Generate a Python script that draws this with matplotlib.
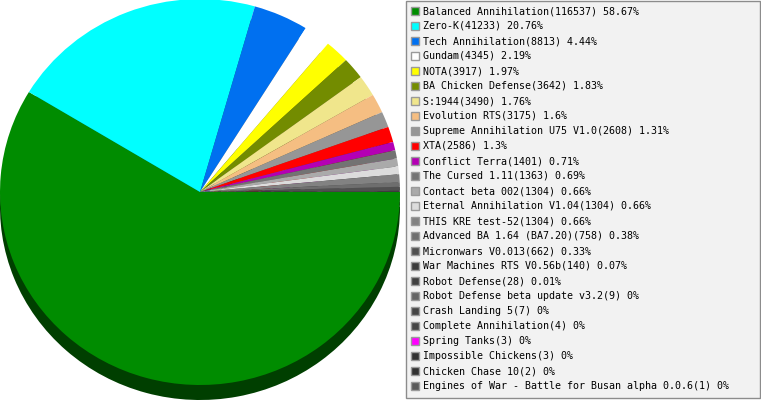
import numpy as np
import matplotlib.pyplot as plt
from matplotlib.patches import Rectangle
from matplotlib.colors import to_rgb

names = [
    'Balanced Annihilation', 'Zero-K', 'Tech Annihilation', 'Gundam', 'NOTA',
    'BA Chicken Defense', 'S:1944', 'Evolution RTS', 'Supreme Annihilation U75 V1.0',
    'XTA', 'Conflict Terra', 'The Cursed 1.11', 'Contact beta 002',
    'Eternal Annihilation V1.04', 'THIS KRE test-52', 'Advanced BA 1.64 (BA7.20)',
    'Micronwars V0.013', 'War Machines RTS V0.56b', 'Robot Defense',
    'Robot Defense beta update v3.2', 'Crash Landing 5', 'Complete Annihilation',
    'Spring Tanks', 'Impossible Chickens', 'Chicken Chase 10',
    'Engines of War - Battle for Busan alpha 0.0.6',
]
counts = [116537, 41233, 8813, 4345, 3917, 3642, 3490, 3175, 2608, 2586, 1401,
          1363, 1304, 1304, 1304, 758, 662, 140, 28, 9, 7, 4, 3, 3, 2, 1]
percents = ['58.67', '20.76', '4.44', '2.19', '1.97', '1.83', '1.76', '1.6', '1.31',
            '1.3', '0.71', '0.69', '0.66', '0.66', '0.66', '0.38', '0.33', '0.07',
            '0.01', '0', '0', '0', '0', '0', '0', '0']
colors = ['#008c00', '#00ffff', '#0070f0', '#ffffff', '#ffff00', '#738c00',
          '#f0e68c', '#f5be82', '#969696', '#ff0000', '#b400b4', '#737373',
          '#aaaaaa', '#dcdcdc', '#828282', '#6e6e6e', '#505050', '#3c3c3c',
          '#404040', '#646464', '#464646', '#464646', '#ff00ff', '#323232',
          '#323232', '#5a5a5a']

W, H = 761, 400
fig = plt.figure(figsize=(W / 100, H / 100), dpi=100)

# pie in its own axes so it can be a slightly wide ellipse (rx 200, ry 193)
cx, cy, rx, ry = 200, 192, 200, 193
depth = 15
pie_ax = fig.add_axes([(cx - rx) / W, (H - cy - ry) / H, 2 * rx / W, 2 * ry / H])
dark = [tuple(c * 0.45 for c in to_rgb(col)) for col in colors]
pie_ax.pie(counts, colors=dark, startangle=0, counterclock=False,
           center=(0, -depth / ry), radius=1, wedgeprops={'linewidth': 0})
pie_ax.pie(counts, colors=colors, startangle=0, counterclock=False,
           center=(0, 0), radius=1, wedgeprops={'linewidth': 0})
pie_ax.set_xlim(-1, 1)
pie_ax.set_ylim(-1, 1)
pie_ax.set_aspect('auto')
pie_ax.axis('off')
for p in pie_ax.patches:
    p.set_clip_on(False)

# legend drawn in pixel coordinates (y from top)
ax = fig.add_axes([0, 0, 1, 1])
ax.set_xlim(0, W)
ax.set_ylim(H, 0)
ax.axis('off')
ax.add_patch(Rectangle((405.5, 0.5), 354.5, 397.5, facecolor='#f2f2f2',
                       edgecolor='#8c8c8c', linewidth=1, zorder=3))
for i, (name, cnt, pct, col) in enumerate(zip(names, counts, percents, colors)):
    y = 11 + 15 * i
    ax.add_patch(Rectangle((411, y - 4), 8, 8, facecolor=col,
                           edgecolor='#9a9a9a', linewidth=1, zorder=4))
    ax.text(423, y, f'{name}({cnt}) {pct}%', fontsize=7.2,
            family='DejaVu Sans Mono', va='center', ha='left', color='black',
            zorder=5)

fig.savefig('out.png', dpi=100)
